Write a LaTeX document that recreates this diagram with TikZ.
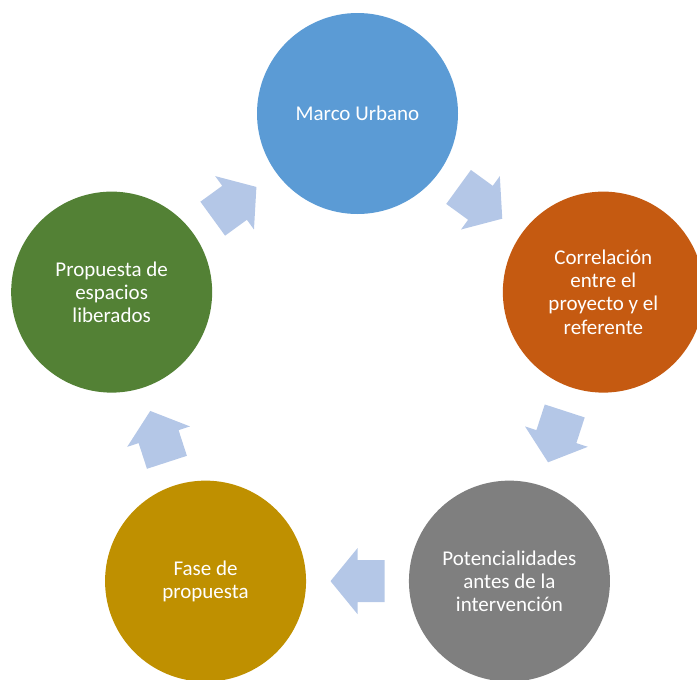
\documentclass[tikz,border=0pt]{standalone}
\usepackage{fontspec}
\setmainfont{Carlito}
\usetikzlibrary{calc}
\definecolor{stageblue}{HTML}{5B9BD5}
\definecolor{stageorange}{HTML}{C55A11}
\definecolor{stagegray}{HTML}{7F7F7F}
\definecolor{stagegold}{HTML}{BF9000}
\definecolor{stagegreen}{HTML}{538135}
\definecolor{flowblue}{HTML}{B4C7E7}
\tikzset{
  stage/.style={circle, minimum size=201pt, inner sep=0pt, draw=none,
    text=white, align=center, font=\fontsize{21}{23.3}\selectfont},
  % block arrow pointing along +x, origin at the base of the head
  cyclearrow/.pic={
    \fill[flowblue] (-27,-21) -- (0,-21) -- (0,-33) -- (27,0) -- (0,33)
      -- (0,21) -- (-27,21) -- cycle;
  }
}
\begin{document}
\begin{tikzpicture}[x=1pt,y=1pt]
\useasboundingbox (0,0) rectangle (697,-680);
\coordinate (C) at (357.5,-372);

% five stages placed evenly on a circle, clockwise from the top
\node[stage, fill=stageblue]   (marco) at ($(C)+(90:258.5)$)   {Marco Urbano};
\node[stage, fill=stageorange] (corr)  at ($(C)+(18:258.5)$)   {Correlación\\entre el\\proyecto y el\\referente};
\node[stage, fill=stagegray]   (pot)   at ($(C)+(-54:258.5)$)  {Potencialidades\\antes de la\\intervención};
\node[stage, fill=stagegold]   (fase)  at ($(C)+(-126:258.5)$) {Fase de\\propuesta};
\node[stage, fill=stagegreen]  (prop)  at ($(C)+(162:258.5)$)  {Propuesta de\\espacios\\liberados};

% arrows halfway between consecutive stages
\pic[rotate=-36]  at ($(marco)!0.5!(corr)$) {cyclearrow};
\pic[rotate=-108] at ($(corr)!0.5!(pot)$)   {cyclearrow};
\pic[rotate=180]  at ($(pot)!0.5!(fase)$)   {cyclearrow};
\pic[rotate=108]  at ($(fase)!0.5!(prop)$)  {cyclearrow};
\pic[rotate=36]   at ($(prop)!0.5!(marco)$) {cyclearrow};
\end{tikzpicture}
\end{document}
